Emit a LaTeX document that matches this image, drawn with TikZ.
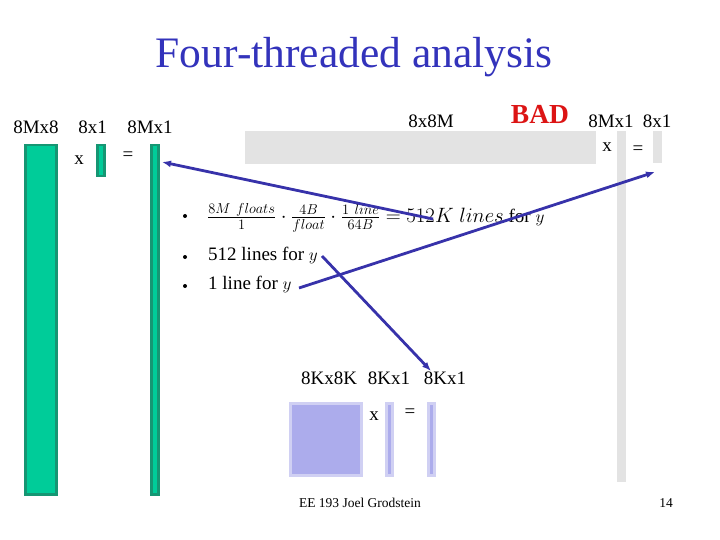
\documentclass[tikz,border=0pt]{standalone}
\usepackage{fontspec}
\setmainfont{Liberation Serif}
\usetikzlibrary{arrows.meta,positioning}
\definecolor{titleblue}{RGB}{51,51,187}
\definecolor{arrowblue}{RGB}{55,50,170}
\definecolor{mgreen}{RGB}{0,204,153}
\definecolor{mgreenline}{RGB}{22,150,115}
\definecolor{mgray}{RGB}{227,227,227}
\definecolor{mlav}{RGB}{172,172,236}
\definecolor{mlavline}{RGB}{208,208,243}
\definecolor{badred}{RGB}{220,20,20}

\begin{document}
\begin{tikzpicture}[x=1pt, y=-1pt,
    lbl/.style={font=\fontsize{19}{21}\selectfont, inner sep=0pt},
    greenmat/.style={draw=mgreenline, fill=mgreen, line width=2.5pt, anchor=north west, inner sep=0pt},
    graymat/.style={fill=mgray, anchor=north west, inner sep=0pt},
    lavmat/.style={draw=mlavline, fill=mlav, line width=3pt, anchor=north west, inner sep=0pt},
    bullet/.style={font=\fontsize{19}{22}\selectfont, inner sep=0pt, anchor=west},
    arr/.style={-{Latex[length=9pt, width=7pt]}, line width=2.8pt, arrowblue}
  ]
    \useasboundingbox (0,0) rectangle (720,540);
    \node[font=\fontsize{43.5}{48}\selectfont, text=titleblue] (title) at (354,57) {Four-threaded analysis};

    % green: 8Mx8 x 8x1 = 8Mx1
    \node[greenmat, minimum width=31pt, minimum height=349pt] (gA) at (24,144) {};
    \node[greenmat, minimum width=7pt, minimum height=31pt] (gx) at (96,144) {};
    \node[greenmat, minimum width=7pt, minimum height=349pt] (gy) at (150,144) {};
    \node[lbl] (lgA) at (36,127) {8Mx8};
    \node[lbl] (lgx) at (92.5,127) {8x1};
    \node[lbl] (lgy) at (150,127) {8Mx1};
    \node[lbl] (gtimes) at (79,160) {x};
    \node[lbl] (geq) at (128,156) {=};

    % gray: 8x8M x 8Mx1 = 8x1
    \node[graymat, minimum width=351pt, minimum height=33pt] (hA) at (245,131) {};
    \node[graymat, minimum width=9pt, minimum height=351pt] (hx) at (617,131) {};
    \node[graymat, minimum width=9pt, minimum height=32pt] (hy) at (653,131) {};
    \node[lbl] (lhA) at (431,121) {8x8M};
    \node[font=\fontsize{27.5}{30}\selectfont\bfseries, text=badred, inner sep=0pt] (bad) at (540,114) {BAD};
    \node[lbl] (lhx) at (611,121) {8Mx1};
    \node[lbl] (lhy) at (657,121) {8x1};
    \node[lbl] (htimes) at (607,147) {x};
    \node[lbl] (heq) at (638,150) {=};

    % bullets
    \node[bullet] (b1) at (207,218) {\fontsize{22}{24}\selectfont$\frac{8M\ floats}{1}\cdot\frac{4B}{float}\cdot\frac{1\ line}{64B} = 512K\ lines$\fontsize{19}{22}\selectfont\ for $y$};
    \node[bullet] (b2) at (208,255) {512 lines for $y$};
    \node[bullet] (b3) at (208,284) {1 line for $y$};
    \foreach \y/\n in {216/1,257/2,286/3}
      \node[circle, fill=black, inner sep=0pt, minimum size=4pt] (dot\n) at (185,\y) {};

    % lavender: 8Kx8K x 8Kx1 = 8Kx1
    \node[lavmat, minimum width=71pt, minimum height=72pt] (kA) at (289,402) {};
    \node[lavmat, minimum width=6pt, minimum height=72pt] (kx) at (384.5,401.5) {};
    \node[lavmat, minimum width=6pt, minimum height=72pt] (ky) at (426.5,401.5) {};
    \node[lbl] (lkA) at (329,378) {8Kx8K};
    \node[lbl] (lkx) at (389,378) {8Kx1};
    \node[lbl] (lky) at (445,378) {8Kx1};
    \node[lbl] (ktimes) at (374,416) {x};
    \node[lbl] (keq) at (410,413) {=};

    % arrows
    \coordinate (s1) at (433,219);
    \coordinate (e1) at (162,162);
    \coordinate (s2) at (299,288);
    \coordinate (e2) at (655,172);
    \coordinate (s3) at (322,256);
    \coordinate (e3) at (431,371);
    \draw[arr] (s1) -- (e1);
    \draw[arr] (s2) -- (e2);
    \draw[arr] (s3) -- (e3);

    \node[font=\fontsize{13.5}{15}\selectfont] (foot) at (360,503) {EE 193 Joel Grodstein};
    \node[font=\fontsize{13.5}{15}\selectfont] (page) at (666,503) {14};
  \end{tikzpicture}
\end{document}
